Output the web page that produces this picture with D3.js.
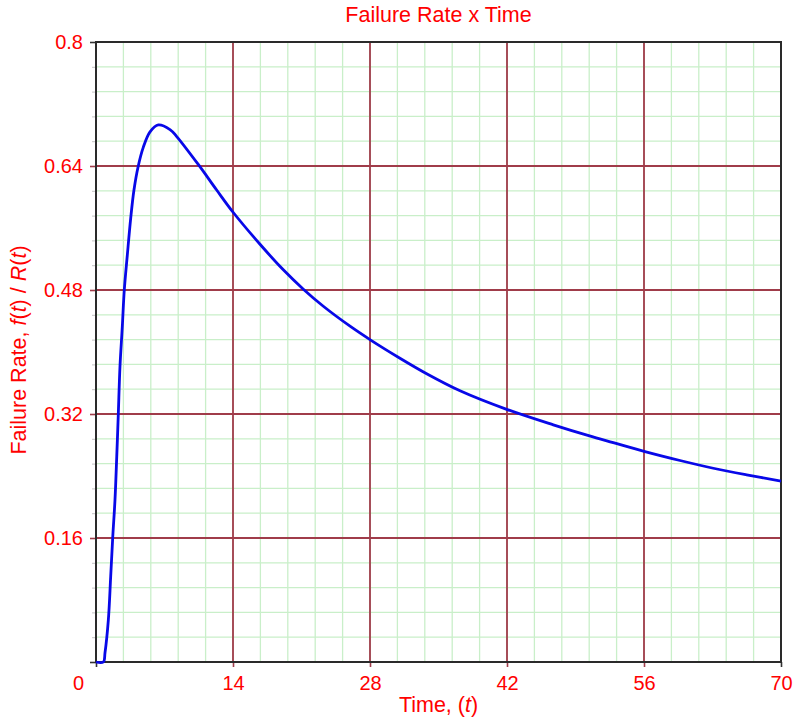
<!DOCTYPE html>
<html>
<head>
<meta charset="utf-8">
<script src="https://cdn.jsdelivr.net/npm/d3@7/dist/d3.min.js"></script>
<style>
  html, body { margin: 0; padding: 0; background: #fff; }
  svg { display: block; }
  text { font-family: "Liberation Sans", Arial, sans-serif; fill: #ff0000; }
</style>
</head>
<body>
<svg id="chart" width="793" height="717"></svg>
<script>
// Hazard curve samples: time t and failure rate f(t)/R(t)
const timeValues = [0, 0.75, 0.92, 1.26, 1.50, 1.71, 1.94, 2.12, 2.28, 2.45, 2.69, 2.89, 3.20, 3.55, 3.88, 4.32, 4.83, 5.52, 6.37, 7.56, 8.25, 10.45, 12.33, 14.03, 16.76, 19.14, 21.19, 23.23, 25.96, 28.07, 31.06, 33.79, 37.20, 41.97, 46.73, 50.35, 52.86, 56.10, 59.68, 63.08, 66.49, 70];
const rateValues = [0, 0, 0.012, 0.054, 0.110, 0.161, 0.209, 0.265, 0.320, 0.381, 0.433, 0.480, 0.525, 0.573, 0.609, 0.640, 0.664, 0.684, 0.693, 0.687, 0.678, 0.642, 0.609, 0.580, 0.539, 0.506, 0.481, 0.459, 0.4333, 0.4154, 0.392, 0.372, 0.350, 0.326, 0.306, 0.292, 0.283, 0.2715, 0.260, 0.250, 0.2415, 0.2335];

const xTickValues = [0, 14, 28, 42, 56, 70];
const yTickValues = [0, 0.16, 0.32, 0.48, 0.64, 0.8];
const xTickLabels = ["0", "14", "28", "42", "56", "70"];
const yTickLabels = ["", "0.16", "0.32", "0.48", "0.64", "0.8"];
const xMinorStep = 2.8;
const yMinorStep = 0.032;

const chartTitle = "Failure Rate x Time";

const svg = d3.select("#chart");
const margin = { left: 96, right: 12, top: 42, bottom: 55 };
const width = 793, height = 717;

const x = d3.scaleLinear().domain([0, 70]).range([margin.left, width - margin.right]);
const y = d3.scaleLinear().domain([0, 0.8]).range([height - margin.bottom, margin.top]);

const xMinor = d3.range(0, 70 + 1e-9, xMinorStep);
const yMinor = d3.range(0, 0.8 + 1e-9, yMinorStep);

const majorColor = "#a03c4a";
const minorColor = "#c9efc9";
const labelFont = "'Liberation Sans', Arial, sans-serif";

// minor grid
const grid = svg.append("g");
grid.selectAll("line.vminor").data(xMinor).join("line")
  .attr("x1", d => x(d)).attr("x2", d => x(d))
  .attr("y1", y(0)).attr("y2", y(0.8))
  .attr("stroke", minorColor).attr("stroke-width", 1.3);
grid.selectAll("line.hminor").data(yMinor).join("line")
  .attr("x1", x(0)).attr("x2", x(70))
  .attr("y1", d => y(d)).attr("y2", d => y(d))
  .attr("stroke", minorColor).attr("stroke-width", 1.3);

// major grid
grid.selectAll("line.vmajor").data(xTickValues.slice(1, -1)).join("line")
  .attr("x1", d => x(d)).attr("x2", d => x(d))
  .attr("y1", y(0)).attr("y2", y(0.8))
  .attr("stroke", majorColor).attr("stroke-width", 1.8);
grid.selectAll("line.hmajor").data(yTickValues.slice(1, -1)).join("line")
  .attr("x1", x(0)).attr("x2", x(70))
  .attr("y1", d => y(d)).attr("y2", d => y(d))
  .attr("stroke", majorColor).attr("stroke-width", 1.8);

// minor tick marks left of the value axis
svg.append("g")
  .attr("transform", `translate(${x(0)},0)`)
  .call(d3.axisLeft(y).tickValues(yMinor).tickSize(4).tickFormat(""))
  .call(g => g.select(".domain").remove())
  .call(g => g.selectAll("line").attr("stroke", "#c4c4c4"));

// major axes with labels
const yAxis = svg.append("g")
  .attr("transform", `translate(${x(0)},0)`)
  .call(d3.axisLeft(y).tickValues(yTickValues).tickSize(6).tickPadding(7)
    .tickFormat((d, i) => yTickLabels[i]));
yAxis.select(".domain").remove();
yAxis.selectAll("line").attr("stroke", (d, i) => (i === 0 || i === yTickValues.length - 1) ? "#333" : majorColor).attr("stroke-width", 1.6);
yAxis.selectAll("text").attr("font-size", 20).attr("fill", "#ff0000")
  .style("font-family", labelFont);

const xAxis = svg.append("g")
  .attr("transform", `translate(0,${y(0)})`)
  .call(d3.axisBottom(x).tickValues(xTickValues).tickSize(5).tickPadding(9)
    .tickFormat((d, i) => xTickLabels[i]));
xAxis.select(".domain").remove();
xAxis.selectAll("line").attr("stroke", (d, i) => (i === 0 || i === xTickValues.length - 1) ? "#333" : majorColor).attr("stroke-width", 1.6);
xAxis.selectAll("text").attr("font-size", 20).attr("fill", "#ff0000")
  .style("font-family", labelFont)
  .attr("dx", d => d === 0 ? -18 : 0);

// frame
svg.append("rect")
  .attr("x", x(0)).attr("y", y(0.8))
  .attr("width", x(70) - x(0)).attr("height", y(0) - y(0.8))
  .attr("fill", "none").attr("stroke", "#2a2a2a").attr("stroke-width", 2);

// hazard curve
const pts = timeValues.map((t, i) => [t, rateValues[i]]);
const line = d3.line().x(d => x(d[0])).y(d => y(d[1])).curve(d3.curveCatmullRom.alpha(0.5));
svg.append("path")
  .datum(pts)
  .attr("d", line)
  .attr("fill", "none")
  .attr("stroke", "#0808e8")
  .attr("stroke-width", 2.8)
  .attr("stroke-linejoin", "round");

// title
svg.append("text")
  .attr("x", (x(0) + x(70)) / 2).attr("y", 22)
  .attr("text-anchor", "middle").attr("font-size", 21.5)
  .text(chartTitle);

// x axis title
const xt = svg.append("text")
  .attr("x", (x(0) + x(70)) / 2).attr("y", 712)
  .attr("text-anchor", "middle").attr("font-size", 21.5);
xt.append("tspan").text("Time, (");
xt.append("tspan").attr("font-style", "italic").text("t");
xt.append("tspan").text(")");

// y axis title
const yt = svg.append("text")
  .attr("transform", "translate(26,350) rotate(-90)")
  .attr("text-anchor", "middle").attr("font-size", 21.5);
yt.append("tspan").text("Failure Rate, ");
yt.append("tspan").attr("font-style", "italic").text("f");
yt.append("tspan").text("(");
yt.append("tspan").attr("font-style", "italic").text("t");
yt.append("tspan").text(") / ");
yt.append("tspan").attr("font-style", "italic").text("R");
yt.append("tspan").text("(");
yt.append("tspan").attr("font-style", "italic").text("t");
yt.append("tspan").text(")");
</script>
</body>
</html>
